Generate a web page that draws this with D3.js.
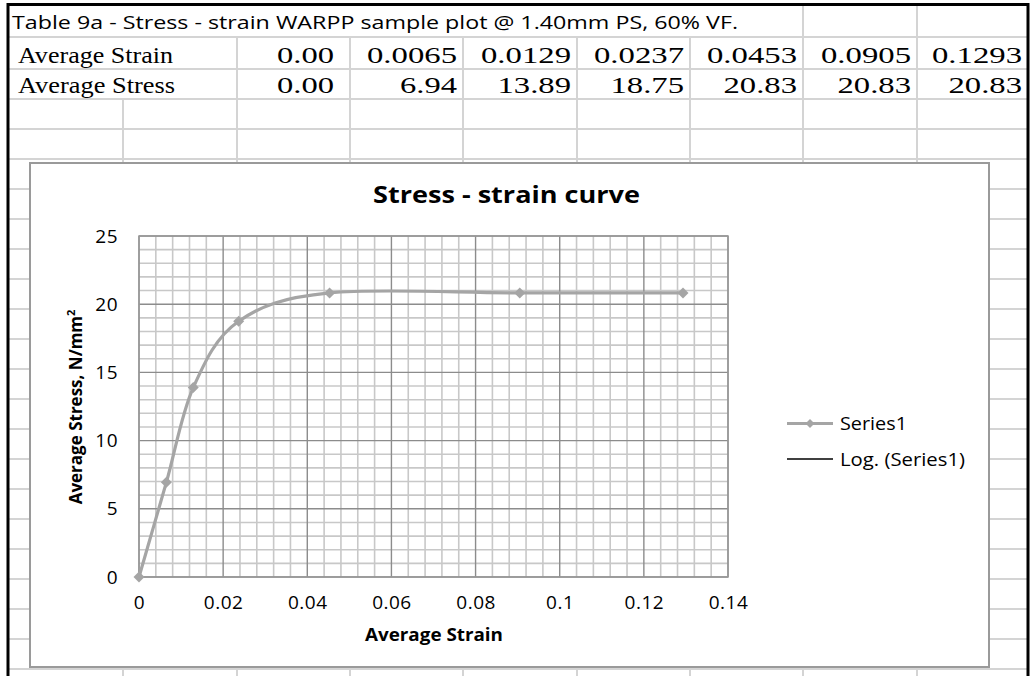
<!DOCTYPE html>
<html><head><meta charset="utf-8">
<script src="https://cdn.jsdelivr.net/npm/d3@7"></script>
<style>body{margin:0;background:#fff}svg{display:block}</style>
</head><body>
<svg id="c" width="1032" height="676"></svg>
<script>
// ---------- data ----------
const tableTitle = "Table 9a - Stress - strain WARPP sample plot @ 1.40mm PS, 60% VF.";
const rowLabels = ["Average Strain", "Average Stress"];
const strain = [0, 0.0065, 0.0129, 0.0237, 0.0453, 0.0905, 0.1293];
const stress = [0, 6.94, 13.89, 18.75, 20.83, 20.83, 20.83];
const strainText = ["0.00", "0.0065", "0.0129", "0.0237", "0.0453", "0.0905", "0.1293"];
const stressText = ["0.00", "6.94", "13.89", "18.75", "20.83", "20.83", "20.83"];
const xTicks = [0, 0.02, 0.04, 0.06, 0.08, 0.1, 0.12, 0.14];
const yTicks = [0, 5, 10, 15, 20, 25];
const chartTitle = "Stress - strain curve";
const xTitle = "Average Strain";
const yTitle = "Average Stress, N/mm";
const legendLabels = ["Series1", "Log. (Series1)"];

// ---------- layout ----------
const svg = d3.select("#c");
svg.append("rect").attr("width", 1032).attr("height", 676).attr("fill", "#fff");

const colEdges = [8, 123, 237, 350, 463, 577, 690, 803, 917, 1028];
const rowEdges = [5, 37, 69, 99];
for (let y = 129; y < 676; y += 30) rowEdges.push(y);

const gridC = "#d4d4d4";
const sheet = svg.append("g");
rowEdges.slice(1).forEach(y => {
  sheet.append("line").attr("x1", 8).attr("x2", 1028).attr("y1", y).attr("y2", y)
    .attr("stroke", gridC).attr("stroke-width", 2);
});
colEdges.slice(1, -1).forEach(x => {
  let y1;
  if (x >= 803) y1 = 5;
  else if (x >= 237) y1 = 37;
  else y1 = 99;
  sheet.append("line").attr("x1", x).attr("x2", x).attr("y1", y1).attr("y2", 676)
    .attr("stroke", gridC).attr("stroke-width", 2);
});
sheet.append("path").attr("d", "M8,676 L8,4.5 L1028,4.5 L1028,676")
  .attr("fill", "none").attr("stroke", "#000").attr("stroke-width", 3);

function fit(sel, w) { return sel.attr("textLength", w).attr("lengthAdjust", "spacingAndGlyphs"); }
fit(sheet.append("text").attr("x", 12).attr("y", 29)
  .attr("font-family", "'Open Sans', sans-serif").attr("font-size", 18).text(tableTitle), 726);
const rowBase = [63, 93];
rowLabels.forEach((t, i) => {
  fit(sheet.append("text").attr("x", 18).attr("y", rowBase[i])
    .attr("font-family", "'Liberation Serif', serif").attr("font-size", 23).text(t), i ? 157 : 155);
});
function valW(s) { let w = 0; for (const ch of s) w += ch === "." ? 7.5 : 16.5; return w; }
[strainText, stressText].forEach((arr, r) => {
  arr.forEach((t, i) => {
    const right = colEdges[i + 3] - (i === 0 ? 16 : 6);
    fit(sheet.append("text").attr("x", right).attr("y", rowBase[r]).attr("text-anchor", "end")
      .attr("font-family", "'Liberation Serif', serif").attr("font-size", 23).text(t), valW(t));
  });
});

// ---------- chart box ----------
const box = {x: 30, y: 163, w: 959, h: 504};
svg.append("rect").attr("x", box.x).attr("y", box.y).attr("width", box.w).attr("height", box.h)
  .attr("fill", "#fff").attr("stroke", "#9a9a9a").attr("stroke-width", 2);

const P = {l: 139, r: 728, t: 236, b: 577};
const x = d3.scaleLinear().domain([0, 0.14]).range([P.l, P.r]);
const y = d3.scaleLinear().domain([0, 25]).range([P.b, P.t]);

const grid = svg.append("g");
const minorX = d3.range(0, 36).map(i => i * 0.004).filter(v => Math.round(v * 1000) % 20 !== 0);
const minorY = d3.range(0, 25).filter(v => v % 5 !== 0);
minorX.forEach(v => grid.append("line").attr("x1", x(v)).attr("x2", x(v)).attr("y1", P.t).attr("y2", P.b)
  .attr("stroke", "#c8c8c8").attr("stroke-width", 1.6));
minorY.forEach(v => grid.append("line").attr("x1", P.l).attr("x2", P.r).attr("y1", y(v)).attr("y2", y(v))
  .attr("stroke", "#c8c8c8").attr("stroke-width", 1.6));
xTicks.forEach(v => grid.append("line").attr("x1", x(v)).attr("x2", x(v)).attr("y1", P.t).attr("y2", P.b)
  .attr("stroke", "#8c8c8c").attr("stroke-width", 1.4));
yTicks.forEach(v => grid.append("line").attr("x1", P.l).attr("x2", P.r).attr("y1", y(v)).attr("y2", y(v))
  .attr("stroke", "#8c8c8c").attr("stroke-width", 1.4));
grid.append("rect").attr("x", P.l).attr("y", P.t).attr("width", P.r - P.l).attr("height", P.b - P.t)
  .attr("fill", "none").attr("stroke", "#999").attr("stroke-width", 1.5);

const fmtX = d => d === 0 ? "0" : String(+d.toFixed(2));
const ax = svg.append("g").attr("transform", `translate(0,${P.b})`)
  .call(d3.axisBottom(x).tickValues(xTicks).tickFormat(fmtX).tickSize(0).tickPadding(19));
const ay = svg.append("g").attr("transform", `translate(${P.l},0)`)
  .call(d3.axisLeft(y).tickValues(yTicks).tickSize(0).tickPadding(21));
[ax, ay].forEach(a => {
  a.select(".domain").remove();
  a.selectAll("text").attr("font-family", "'Open Sans', sans-serif").attr("font-size", 19)
    .attr("letter-spacing", 0.5).attr("fill", "#000");
});

const pts = strain.map((s, i) => [s, stress[i]]);
const line = d3.line().x(d => x(d[0])).y(d => y(d[1])).curve(d3.curveCardinal.tension(0));
const serC = "#a5a5a5";
svg.append("path").attr("d", line(pts)).attr("fill", "none").attr("stroke", serC)
  .attr("stroke-width", 3.2).attr("stroke-linejoin", "round");
const diamond = r => `M0,${-r}L${r},0L0,${r}L${-r},0Z`;
svg.append("g").selectAll("path").data(pts).join("path")
  .attr("d", diamond(5.5)).attr("transform", d => `translate(${x(d[0])},${y(d[1])})`)
  .attr("fill", serC);

fit(svg.append("text").attr("x", 373).attr("y", 203).attr("font-family", "'Open Sans', sans-serif")
  .attr("font-weight", "bold").attr("font-size", 23).text(chartTitle), 267);
fit(svg.append("text").attr("x", 365).attr("y", 641).attr("font-family", "'Open Sans', sans-serif")
  .attr("font-weight", "bold").attr("font-size", 17.5).text(xTitle), 138);
const yt = svg.append("text").attr("transform", "translate(82,407) rotate(-90)")
  .attr("text-anchor", "middle").attr("font-family", "'Open Sans', sans-serif")
  .attr("font-weight", "bold").attr("font-size", 17);
yt.append("tspan").text(yTitle);
yt.append("tspan").attr("dy", -7).attr("font-size", 11).text("2");

const lg = svg.append("g");
const lgY = [423.5, 459];
lg.append("line").attr("x1", 787).attr("x2", 833).attr("y1", lgY[0]).attr("y2", lgY[0])
  .attr("stroke", serC).attr("stroke-width", 3.2);
lg.append("path").attr("d", diamond(4.5)).attr("transform", `translate(810,${lgY[0]})`).attr("fill", serC);
lg.append("line").attr("x1", 787).attr("x2", 833).attr("y1", lgY[1]).attr("y2", lgY[1])
  .attr("stroke", "#000").attr("stroke-width", 1.3);
legendLabels.forEach((t, i) => {
  fit(lg.append("text").attr("x", 840).attr("y", lgY[i] + 6.5).attr("font-family", "'Open Sans', sans-serif")
    .attr("font-size", 18).text(t), i ? 125 : 67);
});
</script>
</body></html>
